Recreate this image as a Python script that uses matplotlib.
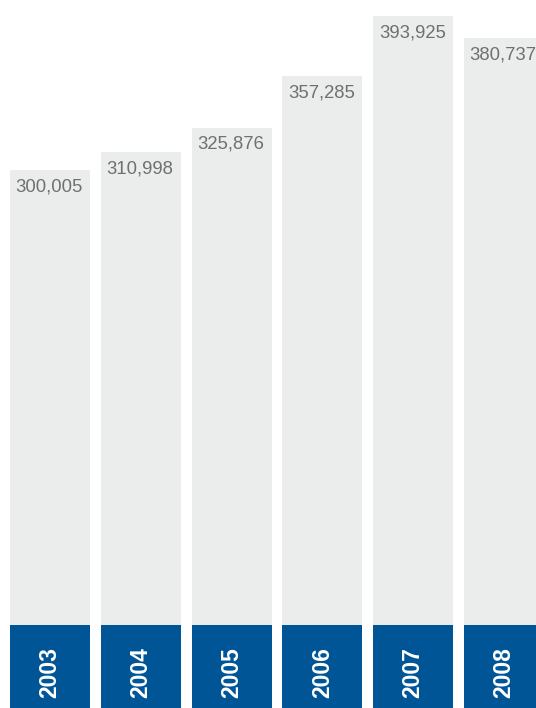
import matplotlib.pyplot as plt

years = ["2003", "2004", "2005", "2006", "2007", "2008"]
values = [300005, 310998, 325876, 357285, 393925, 380737]

W, H, DPI = 536, 708, 100
BAR_GREY = "#ebecec"
BLUE = "#005596"
LABEL_GREY = "#707070"

plt.rcParams["font.family"] = ["Liberation Sans", "DejaVu Sans"]

fig = plt.figure(figsize=(W / DPI, H / DPI), dpi=DPI)
fig.patch.set_facecolor("white")

split = 83 / H  # blue strip height
x = list(range(len(years)))
xlim = (-50 / 90.8, 486 / 90.8)
width = 80 / 90.8

# grey bars
ax = fig.add_axes([0, split, 1, 1 - split])
base = 21400
ax.bar(x, [v - base for v in values], bottom=base, width=width, color=BAR_GREY)
ax.set_xlim(*xlim)
ax.set_ylim(base, 404000)
for i, v in enumerate(values):
    ax.annotate(f"{v:,}", (i - width / 2, v), xytext=(4, -6),
                textcoords="offset points", ha="left", va="top",
                fontsize=13.3, color=LABEL_GREY, annotation_clip=False)
ax.axis("off")

# blue year boxes
ax2 = fig.add_axes([0, 0, 1, split])
ax2.bar(x, [1] * len(x), width=width, color=BLUE)
ax2.set_xlim(*xlim)
ax2.set_ylim(0, 1)
for i, y in enumerate(years):
    ax2.text(i, 0.43, y, rotation=90, ha="center", va="center",
             color="white", fontsize=16.5, fontweight="bold")
ax2.axis("off")

fig.savefig("out.png", dpi=DPI, facecolor="white")
